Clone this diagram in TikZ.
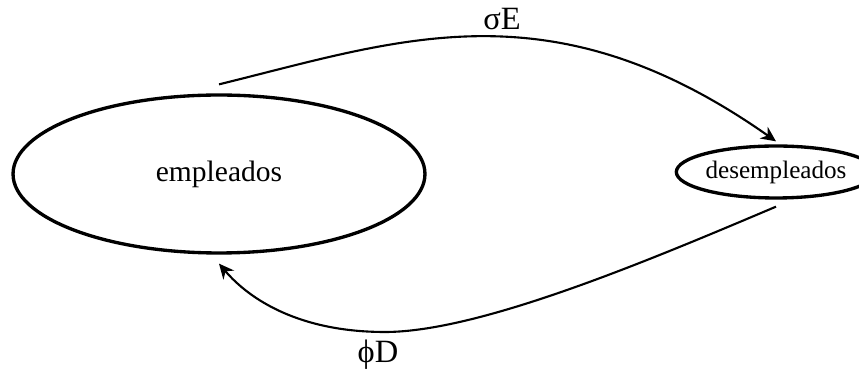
\documentclass[tikz,border=0pt]{standalone}
\usepackage{fontspec}
\setmainfont{Liberation Serif}
\usepackage{tikz}
\usetikzlibrary{
  arrows.meta,
  shapes.geometric,
  calc
}
\tikzset{
  popnode/.style={
    draw, ellipse, line width=1.9pt, inner sep=0pt, align=center
  },
  bigpop/.style={popnode, minimum width=8.24cm, minimum height=3.16cm,
    font=\fontsize{16.8}{19}\selectfont},
  smallpop/.style={popnode, minimum width=3.18cm, minimum height=1.04cm,
    font=\fontsize{14.3}{16}\selectfont},
  flow/.style={-{Stealth[length=3mm, width=2.8mm]}, line width=1.2pt},
  tag/.style={font=\fontsize{18.5}{20}\selectfont, inner sep=1pt}
}

\begin{document}
\begin{tikzpicture}[x=0.02cm, y=-0.02cm]
  \useasboundingbox (0,0) rectangle (859,374);

  % los dos estados
  \node[bigpop] (emp) at (219,174) {empleados};
  \node[smallpop] (des) at (776,172) {desempleados};

  % flujos entre estados
  \coordinate (dip) at (385,332);
  \draw[flow] ([yshift=0.18cm]emp.north)
    .. controls (400,40) and (551,-17) .. ([yshift=0.06cm]des.north);
  \draw[flow] ([yshift=-0.14cm]des.south)
    .. controls (650,260) and (480,332) .. (dip)
    .. controls (300,332) and (250,300) .. ([yshift=-0.18cm]emp.south);

  % tasas
  \node[tag] (sigmaE) at (502,19) {σE};
  \node[tag] (phiD) at (378,355) {ϕD};
\end{tikzpicture}
\end{document}
